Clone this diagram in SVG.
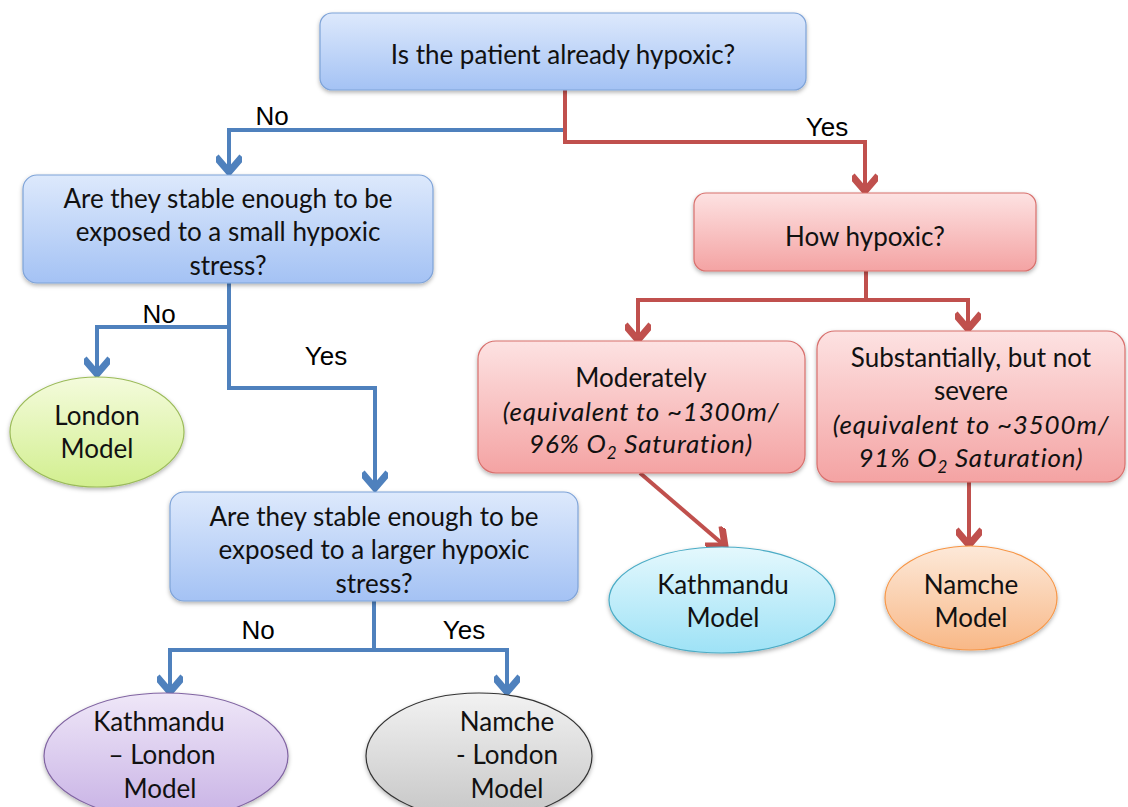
<svg xmlns="http://www.w3.org/2000/svg" width="1128" height="807" viewBox="0 0 1128 807">
  <defs>
    <linearGradient id="gBlue" x1="0" y1="0" x2="0" y2="1">
      <stop offset="0" stop-color="#dde9fc"/>
      <stop offset="1" stop-color="#a4c2f4"/>
    </linearGradient>
    <linearGradient id="gRed" x1="0" y1="0" x2="0" y2="1">
      <stop offset="0" stop-color="#fde2e2"/>
      <stop offset="1" stop-color="#f4a3a3"/>
    </linearGradient>
    <linearGradient id="gGreen" x1="0" y1="0" x2="0" y2="1">
      <stop offset="0" stop-color="#f4fbdc"/>
      <stop offset="1" stop-color="#d2ef8f"/>
    </linearGradient>
    <linearGradient id="gPurple" x1="0" y1="0" x2="0" y2="1">
      <stop offset="0" stop-color="#efe7f8"/>
      <stop offset="1" stop-color="#c8b2e5"/>
    </linearGradient>
    <linearGradient id="gGray" x1="0" y1="0" x2="0" y2="1">
      <stop offset="0" stop-color="#f2f2f2"/>
      <stop offset="1" stop-color="#c6c6c6"/>
    </linearGradient>
    <linearGradient id="gCyan" x1="0" y1="0" x2="0" y2="1">
      <stop offset="0" stop-color="#e4f8fd"/>
      <stop offset="1" stop-color="#9ee2f6"/>
    </linearGradient>
    <linearGradient id="gOrange" x1="0" y1="0" x2="0" y2="1">
      <stop offset="0" stop-color="#fde9d9"/>
      <stop offset="1" stop-color="#f8b887"/>
    </linearGradient>
    <filter id="shadow" x="-10%" y="-10%" width="120%" height="130%">
      <feDropShadow dx="0" dy="2" stdDeviation="2" flood-color="#000" flood-opacity="0.3"/>
    </filter>
    <!-- open chevron arrowheads -->
    <marker id="arrowB" viewBox="0 0 12 12" refX="10" refY="6" markerWidth="26" markerHeight="26" markerUnits="userSpaceOnUse" orient="auto">
      <path d="M3,0 L10,6 L3,12" fill="none" stroke="#4f81bd" stroke-width="3.2"/>
    </marker>
    <marker id="arrowR" viewBox="0 0 12 12" refX="10" refY="6" markerWidth="26" markerHeight="26" markerUnits="userSpaceOnUse" orient="auto">
      <path d="M3,0 L10,6 L3,12" fill="none" stroke="#c0504d" stroke-width="3.2"/>
    </marker>
  </defs>
  <style>
    .boxB { fill: url(#gBlue); stroke: #7ea3d8; stroke-width: 1.2; filter: url(#shadow); }
    .boxR { fill: url(#gRed); stroke: #d8706d; stroke-width: 1.2; filter: url(#shadow); }
    .t { font-family: Lato, "Open Sans", "Liberation Sans", sans-serif; font-size: 26px; fill: #111; text-anchor: middle; }
    .i { font-style: italic; letter-spacing: 0.8px; }
    .lbl { font-family: "Liberation Sans", Arial, sans-serif; font-size: 26px; fill: #000; text-anchor: middle; }
    .cb { fill: none; stroke: #4f81bd; stroke-width: 4; marker-end: url(#arrowB); }
    .cr { fill: none; stroke: #c0504d; stroke-width: 4; marker-end: url(#arrowR); }
  </style>

  <rect width="1128" height="807" fill="#fff"/>

  <!-- connectors -->
  <g id="connectors">
    <path class="cb" d="M563,130 H229 V172"/>
    <path class="cr" d="M565,90 V142 H865 V191"/>
    <path class="cb" d="M229,283 V327 H97 V374"/>
    <path class="cb" d="M229,327 V388 H375 V488"/>
    <path class="cb" d="M374,601 V650 H170 V692"/>
    <path class="cb" d="M374,650 H507 V692"/>
    <path class="cr" d="M866,271 V300 H638 V340"/>
    <path class="cr" d="M866,300 H968 V329"/>
    <path class="cr" d="M640,473 L725,546"/>
    <path class="cr" d="M969,482 V545"/>
    <text class="lbl" x="272" y="125">No</text>
    <text class="lbl" x="827" y="136">Yes</text>
    <text class="lbl" x="159" y="323">No</text>
    <text class="lbl" x="326" y="365">Yes</text>
    <text class="lbl" x="258" y="639">No</text>
    <text class="lbl" x="464" y="639">Yes</text>
  </g>

  <g id="q-hypoxic">
    <rect class="boxB" x="320" y="13" width="486" height="77" rx="12"/>
    <text class="t" x="563" y="64">Is the patient already hypoxic?</text>
  </g>

  <g id="q-small-stress">
    <rect class="boxB" x="23" y="175" width="410" height="108" rx="14"/>
    <text class="t" x="228" y="208">Are they stable enough to be</text>
    <text class="t" x="228" y="241">exposed to a small hypoxic</text>
    <text class="t" x="228" y="275">stress?</text>
  </g>

  <g id="q-larger-stress">
    <rect class="boxB" x="170" y="492" width="408" height="109" rx="14"/>
    <text class="t" x="374" y="526">Are they stable enough to be</text>
    <text class="t" x="374" y="559">exposed to a larger hypoxic</text>
    <text class="t" x="374" y="593">stress?</text>
  </g>

  <g id="q-how-hypoxic">
    <rect class="boxR" x="694" y="193" width="342" height="78" rx="12"/>
    <text class="t" x="865" y="246">How hypoxic?</text>
  </g>

  <g id="moderately">
    <rect class="boxR" x="478" y="341" width="327" height="132" rx="18"/>
    <text class="t" x="641" y="387">Moderately</text>
    <text class="t i" x="641" y="421">(equivalent to ~1300m/</text>
    <text class="t i" x="641" y="453">96% O<tspan font-size="17" dy="6">2</tspan><tspan dy="-6"> Saturation)</tspan></text>
  </g>

  <g id="substantially">
    <rect class="boxR" x="817" y="331" width="308" height="151" rx="18"/>
    <text class="t" x="971" y="367">Substantially, but not</text>
    <text class="t" x="971" y="400">severe</text>
    <text class="t i" x="971" y="434">(equivalent to ~3500m/</text>
    <text class="t i" x="971" y="467">91% O<tspan font-size="17" dy="6">2</tspan><tspan dy="-6"> Saturation)</tspan></text>
  </g>

  <g id="london-model">
    <ellipse cx="97" cy="432" rx="87" ry="55" fill="url(#gGreen)" stroke="#9bbb59" stroke-width="1.2" filter="url(#shadow)"/>
    <text class="t" x="97" y="425">London</text>
    <text class="t" x="97" y="458">Model</text>
  </g>

  <g id="kathmandu-london-model">
    <ellipse cx="166" cy="756" rx="122" ry="63" fill="url(#gPurple)" stroke="#8064a2" stroke-width="1.2" filter="url(#shadow)"/>
    <text class="t" x="159" y="731">Kathmandu</text>
    <text class="t" x="162" y="764">– London</text>
    <text class="t" x="160" y="798">Model</text>
  </g>

  <g id="namche-london-model">
    <ellipse cx="479" cy="756" rx="113" ry="63" fill="url(#gGray)" stroke="#333" stroke-width="1.2" filter="url(#shadow)"/>
    <text class="t" x="507" y="731">Namche</text>
    <text class="t" x="507" y="764">- London</text>
    <text class="t" x="507" y="798">Model</text>
  </g>

  <g id="kathmandu-model">
    <ellipse cx="722" cy="600" rx="113" ry="53" fill="url(#gCyan)" stroke="#4bacc6" stroke-width="1.2" filter="url(#shadow)"/>
    <text class="t" x="723" y="594">Kathmandu</text>
    <text class="t" x="723" y="627">Model</text>
  </g>

  <g id="namche-model">
    <ellipse cx="971" cy="598" rx="86" ry="52" fill="url(#gOrange)" stroke="#f79646" stroke-width="1.2" filter="url(#shadow)"/>
    <text class="t" x="971" y="594">Namche</text>
    <text class="t" x="971" y="627">Model</text>
  </g>
</svg>
